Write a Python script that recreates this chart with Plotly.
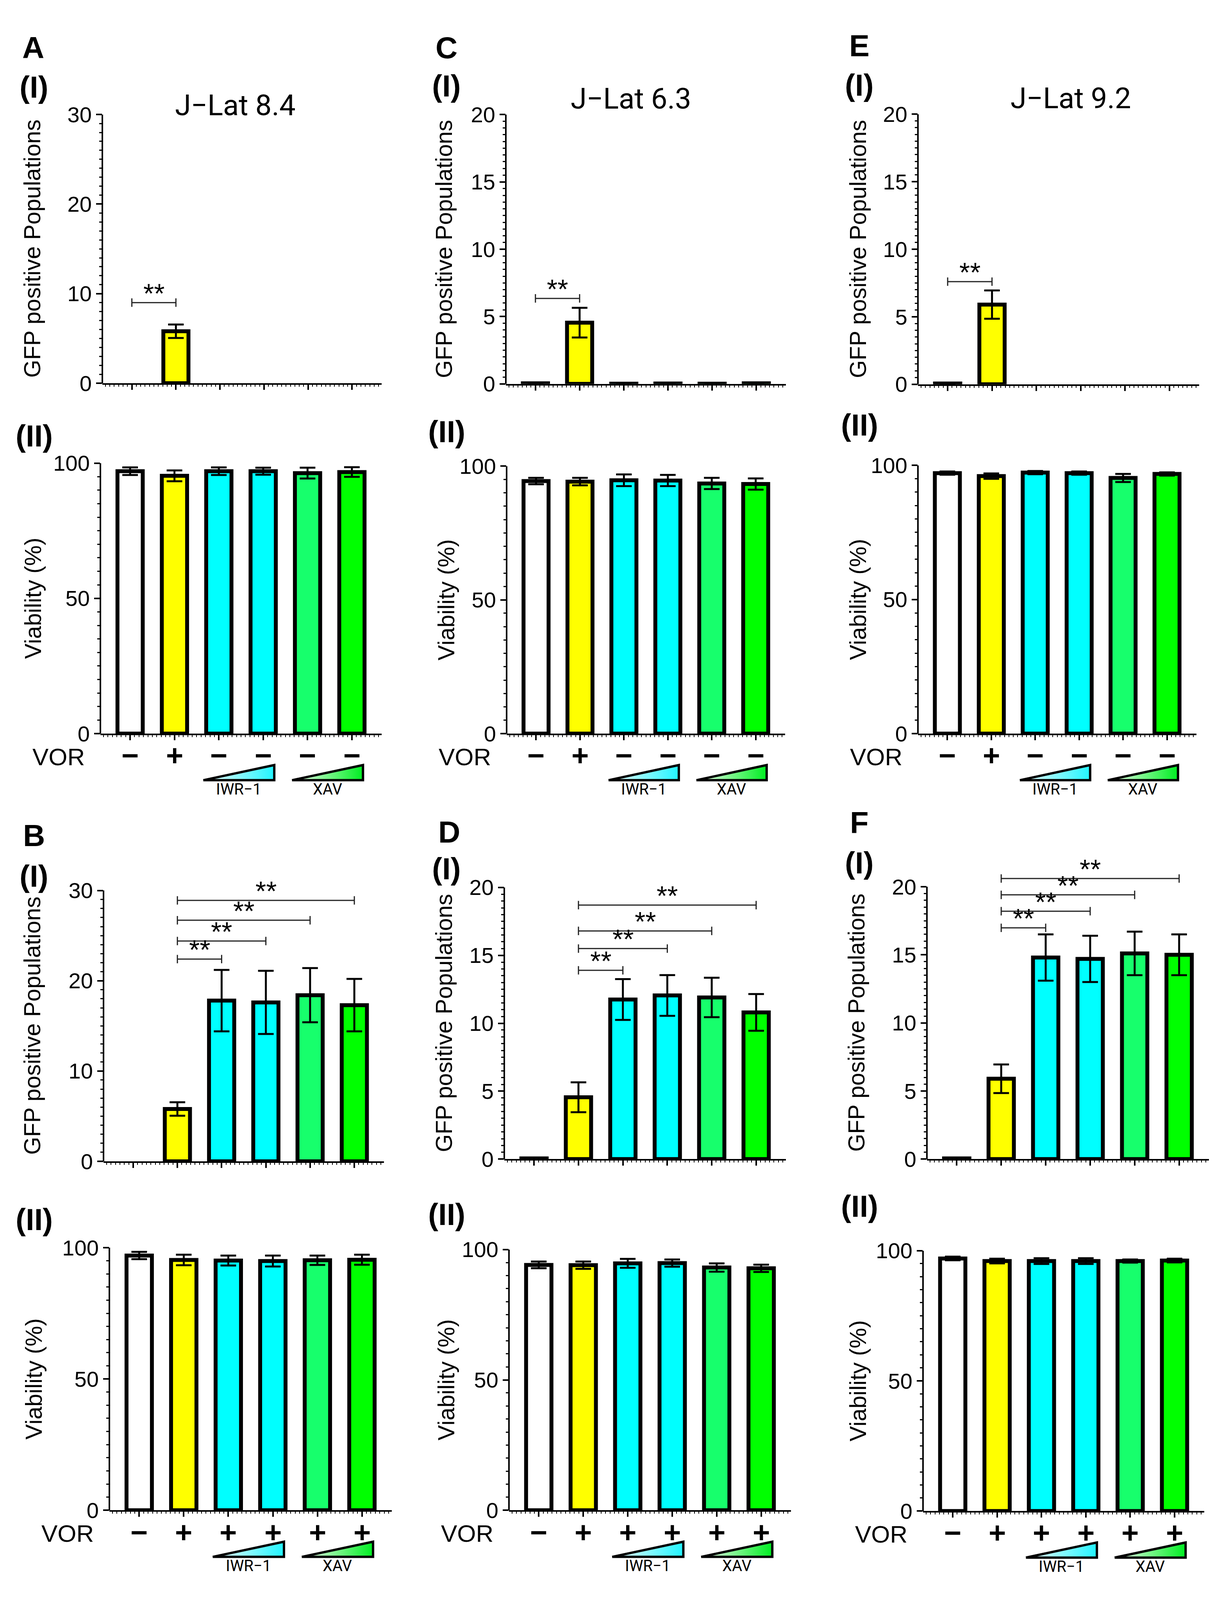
import plotly.graph_objects as go

W, H = 3131, 4239
S = 0.975  # vertical squeeze so the lowest labels stay inside the visible page
FONT = "Liberation Sans"
ROBO = "Roboto"

conditions = ["Mock", "VOR", "IWR-1 low", "IWR-1 high", "XAV low", "XAV high"]
bar_colors = ["#ffffff", "#ffff00", "#00ffff", "#00ffff", "#17ff6c", "#00ff00"]
vor_alone = ["−", "+", "−", "−", "−", "−"]
vor_combo = ["−", "+", "+", "+", "+", "+"]

# J-Lat 8.4
gfp_84_alone = [0, 5.8, 0, 0, 0, 0]
gfp_84_alone_sd = [0, 0.75, 0, 0, 0, 0]
via_84_alone = [97.0, 95.3, 97.0, 97.0, 96.3, 96.7]
via_84_alone_sd = [1.4, 2.0, 1.4, 1.3, 2.0, 1.8]
gfp_84_combo = [0, 5.8, 17.8, 17.6, 18.4, 17.3]
gfp_84_combo_sd = [0, 0.75, 3.4, 3.5, 3.0, 2.9]
via_84_combo = [97.0, 95.3, 95.1, 94.9, 95.2, 95.4]
via_84_combo_sd = [1.4, 2.0, 1.9, 2.1, 1.8, 1.9]

# J-Lat 6.3
gfp_63_alone = [0.05, 4.55, 0.02, 0.03, 0.02, 0.05]
gfp_63_alone_sd = [0, 1.1, 0, 0, 0, 0]
via_63_alone = [94.4, 94.2, 94.7, 94.6, 93.5, 93.3]
via_63_alone_sd = [1.2, 1.4, 2.2, 2.1, 2.1, 2.1]
gfp_63_combo = [0.05, 4.55, 11.75, 12.05, 11.9, 10.8]
gfp_63_combo_sd = [0, 1.1, 1.5, 1.5, 1.45, 1.35]
via_63_combo = [94.1, 94.0, 94.7, 94.8, 93.1, 92.8]
via_63_combo_sd = [1.3, 1.4, 1.7, 1.4, 1.6, 1.4]

# J-Lat 9.2
gfp_92_alone = [0.06, 5.9, 0, 0, 0, 0]
gfp_92_alone_sd = [0, 1.05, 0, 0, 0, 0]
via_92_alone = [97.1, 96.0, 97.3, 97.1, 95.3, 96.8]
via_92_alone_sd = [0.6, 1.0, 0.6, 0.6, 1.5, 0.6]
gfp_92_combo = [0.05, 5.9, 14.8, 14.7, 15.1, 15.0]
gfp_92_combo_sd = [0, 1.05, 1.7, 1.7, 1.6, 1.5]
via_92_combo = [97.0, 96.0, 96.0, 96.0, 96.0, 96.2]
via_92_combo_sd = [0.7, 0.9, 1.1, 1.1, 0.6, 0.7]

# significance brackets (**): pairs of bars and bracket heights
sig_pairs_alone = [(0, 1)]
sig_pairs_combo = [(1, 2), (1, 3), (1, 4), (1, 5)]
sig_84_alone = [9.0]
sig_84_combo = [22.4, 24.4, 26.7, 28.9]
sig_63_alone = [6.35]
sig_63_combo = [13.9, 15.5, 16.8, 18.7]
sig_92_alone = [7.6]
sig_92_combo = [16.98, 18.2, 19.4, 20.6]

gfp_ticks_84 = [0, 10, 20, 30]
gfp_ticks = [0, 5, 10, 15, 20]
via_ticks = [0, 50, 100]

x_pos = list(range(len(conditions)))
XR = [-0.67, 5.67]

# pixel boxes: left, right, top (=top tick), bottom (=0)
panels = [
    dict(left=262, right=977, top=273, bottom=989, y=gfp_84_alone, sd=gfp_84_alone_sd, ticks=gfp_ticks_84,
         sig=sig_84_alone, pairs=sig_pairs_alone, kind="gfp", tx=83),
    dict(left=257, right=977, top=1202, bottom=1923, y=via_84_alone, sd=via_84_alone_sd, ticks=via_ticks,
         sig=[], pairs=[], kind="via", tx=85, vor=vor_alone),
    dict(left=265, right=983, top=2341, bottom=3063, y=gfp_84_combo, sd=gfp_84_combo_sd, ticks=gfp_ticks_84,
         sig=sig_84_combo, pairs=sig_pairs_combo, kind="gfp", tx=83),
    dict(left=280, right=1003, top=3293, bottom=3993, y=via_84_combo, sd=via_84_combo_sd, ticks=via_ticks,
         sig=[], pairs=[], kind="via", tx=87, vor=vor_combo),
    dict(left=1295, right=2012, top=273, bottom=991, y=gfp_63_alone, sd=gfp_63_alone_sd, ticks=gfp_ticks,
         sig=sig_63_alone, pairs=sig_pairs_alone, kind="gfp", tx=1137),
    dict(left=1297, right=2010, top=1210, bottom=1923, y=via_63_alone, sd=via_63_alone_sd, ticks=via_ticks,
         sig=[], pairs=[], kind="via", tx=1143, vor=vor_alone),
    dict(left=1291, right=2012, top=2333, bottom=3057, y=gfp_63_combo, sd=gfp_63_combo_sd, ticks=gfp_ticks,
         sig=sig_63_combo, pairs=sig_pairs_combo, kind="gfp", tx=1137),
    dict(left=1303, right=2025, top=3298, bottom=3993, y=via_63_combo, sd=via_63_combo_sd, ticks=via_ticks,
         sig=[], pairs=[], kind="via", tx=1143, vor=vor_combo),
    dict(left=2350, right=3070, top=272, bottom=992, y=gfp_92_alone, sd=gfp_92_alone_sd, ticks=gfp_ticks,
         sig=sig_92_alone, pairs=sig_pairs_alone, kind="gfp", tx=2197),
    dict(left=2350, right=3063, top=1208, bottom=1923, y=via_92_alone, sd=via_92_alone_sd, ticks=via_ticks,
         sig=[], pairs=[], kind="via", tx=2197, vor=vor_alone),
    dict(left=2373, right=3095, top=2331, bottom=3057, y=gfp_92_combo, sd=gfp_92_combo_sd, ticks=gfp_ticks,
         sig=sig_92_combo, pairs=sig_pairs_combo, kind="gfp", tx=2193),
    dict(left=2363, right=3083, top=3301, bottom=3995, y=via_92_combo, sd=via_92_combo_sd, ticks=via_ticks,
         sig=[], pairs=[], kind="via", tx=2197, vor=vor_combo),
]

wedges = [((2, 3), [[0, "#f2ffff"], [1, "#22f4ff"]], "IWR−1"),
          ((4, 5), [[0, "#f2fff2"], [1, "#00ee22"]], "XAV")]


def px(x):
    return x / W


def py(y):
    return 1 - (y * S) / H


def ax_names(n):
    s = "" if n == 1 else str(n)
    return "x" + s, "y" + s, "xaxis" + s, "yaxis" + s


fig = go.Figure()
axes = {}
shapes = []
annotations = []
x_minor = [round(-0.6 + 0.1 * i, 2) for i in range(63)]

n = 0
for p in panels:
    n += 1
    xr, yr, xk, yk = ax_names(n)
    ticks = p["ticks"]
    ytop = ticks[-1]
    step = ticks[1] - ticks[0]
    top_val = ytop
    if p["sig"]:
        top_val = max(ytop, max(p["sig"]) + 0.04 * ytop)
    px_per = (p["bottom"] - p["top"]) / ytop
    dom_top = p["bottom"] - top_val * px_per
    # bars at exactly zero are not drawn in the original
    yv = [v if v != 0 else None for v in p["y"]]
    err = [s if s > 0 else None for s in p["sd"]]

    fig.add_trace(go.Bar(
        x=x_pos, y=yv, width=0.57, xaxis=xr, yaxis=yr,
        marker=dict(color=bar_colors, line=dict(color="black", width=10)),
        error_y=dict(type="data", array=err, visible=True, color="black", thickness=5, width=20),
        hoverinfo="skip",
    ))

    is_via = p["kind"] == "via"
    axes[xk] = dict(
        domain=[px(p["left"]), px(p["right"])], range=XR, anchor=yr,
        showgrid=False, zeroline=False, showline=True, linecolor="black", linewidth=4,
        ticks="outside", ticklen=13, tickwidth=4, tickcolor="black",
        tickmode="array", tickvals=x_pos, showticklabels=False,
        minor=dict(tickvals=x_minor, ticks="outside", ticklen=5, tickwidth=2, tickcolor="black"),
    )
    axes[yk] = dict(
        domain=[py(p["bottom"]), py(dom_top)], range=[0, top_val], anchor=xr,
        showgrid=False, zeroline=False, showline=False,
        ticks="outside", ticklen=15, tickwidth=4, tickcolor="black",
        tickmode="array", tickvals=ticks,
        tickfont=dict(family=FONT, size=56, color="black"),
        minor=dict(tickvals=[i * step / 10 for i in range(int(round(ytop / (step / 10))) + 1)],
                   ticks="outside", ticklen=7, tickwidth=3, tickcolor="black"),
    )
    shapes.append(dict(type="line", xref=xr + " domain", x0=0, x1=0, yref=yr, y0=0, y1=ytop,
                       line=dict(color="black", width=4)))

    d = 11 / (px_per * S)
    for h, (a, b) in zip(p["sig"], p["pairs"]):
        shapes.append(dict(
            type="path", xref=xr, yref=yr,
            path=f"M{a},{h} L{b},{h} M{a},{h - d} L{a},{h + d} M{b},{h - d} L{b},{h + d}",
            line=dict(color="#222222", width=3)))
        annotations.append(dict(x=(a + b) / 2, y=h, xref=xr, yref=yr, text="**", showarrow=False,
                                yanchor="bottom", yshift=-18,
                                font=dict(family=FONT, size=70, color="black")))

    ytitle = "Viability (%)" if is_via else "GFP positive Populations"
    annotations.append(dict(x=px(p["tx"]), y=py((p["top"] + p["bottom"]) / 2), xref="paper", yref="paper",
                            text=ytitle, textangle=-90, showarrow=False, xanchor="center", yanchor="middle",
                            font=dict(family=FONT, size=59, color="black")))

    if is_via:
        annotations.append(dict(x=px(p["left"] - 38), y=py(p["bottom"] + 62), xref="paper", yref="paper",
                                text="VOR", showarrow=False, xanchor="right", yanchor="middle",
                                font=dict(family=FONT, size=62, color="black")))
        for xi, sign in zip(x_pos, p["vor"]):
            annotations.append(dict(x=xi, y=py(p["bottom"] + 58), xref=xr, yref="paper",
                                    text=sign, showarrow=False, xanchor="center", yanchor="middle",
                                    font=dict(family=FONT, size=76, color="black", weight="bold")))
        # dose wedges under the axis
        n += 1
        sxr, syr, sxk, syk = ax_names(n)
        axes[sxk] = dict(domain=[px(p["left"]), px(p["right"])], range=XR, anchor=syr, visible=False)
        axes[syk] = dict(domain=[py(p["bottom"] + 130), py(p["bottom"] + 78)], range=[-0.143, 1.143],
                         anchor=sxr, visible=False)
        for (g0, g1), cs, label in wedges:
            x0 = x_pos[g0] - 0.35
            x1 = x_pos[g1] + 0.25
            fig.add_trace(go.Scatter(
                x=[x0, x1, x1, x0], y=[0, 0, 1, 0], xaxis=sxr, yaxis=syr, mode="lines",
                fill="toself", fillgradient=dict(type="horizontal", colorscale=cs),
                line=dict(color="black", width=6), hoverinfo="skip"))
            annotations.append(dict(x=(x0 + x1) / 2, y=py(p["bottom"] + 148), xref=sxr, yref="paper",
                                    text=label, showarrow=False, xanchor="center", yanchor="middle",
                                    font=dict(family=ROBO, size=40, color="black")))

# panel letters, sub-panel labels and titles
labels = [
    ("A", 85, 95), ("(I)", 87, 200), ("(II)", 87, 1130),
    ("B", 87, 2195), ("(I)", 87, 2303), ("(II)", 87, 3218),
    ("C", 1143, 95), ("(I)", 1143, 197), ("(II)", 1143, 1118),
    ("D", 1150, 2185), ("(I)", 1143, 2283), ("(II)", 1143, 3205),
    ("E", 2200, 90), ("(I)", 2200, 195), ("(II)", 2200, 1100),
    ("F", 2200, 2160), ("(I)", 2200, 2268), ("(II)", 2200, 3183),
]
for text, x, y in labels:
    annotations.append(dict(x=px(x), y=py(y), xref="paper", yref="paper", text=text, showarrow=False,
                            xanchor="center", yanchor="middle",
                            font=dict(family=FONT, size=78, color="black", weight="bold")))

titles = [("J−Lat 8.4", 602, 248), ("J−Lat 6.3", 1615, 231), ("J−Lat 9.2", 2741, 230)]
for text, x, y in titles:
    annotations.append(dict(x=px(x), y=py(y), xref="paper", yref="paper", text=text, showarrow=False,
                            xanchor="center", yanchor="middle",
                            font=dict(family=ROBO, size=74, color="black")))

fig.update_layout(
    width=W, height=H, margin=dict(l=0, r=0, t=0, b=0),
    paper_bgcolor="white", plot_bgcolor="white", showlegend=False,
    shapes=shapes, annotations=annotations, **axes,
)

fig.write_html("out.html", config={"displayModeBar": False},
               post_script="document.body.style.margin='0';document.body.style.overflow='hidden';")
